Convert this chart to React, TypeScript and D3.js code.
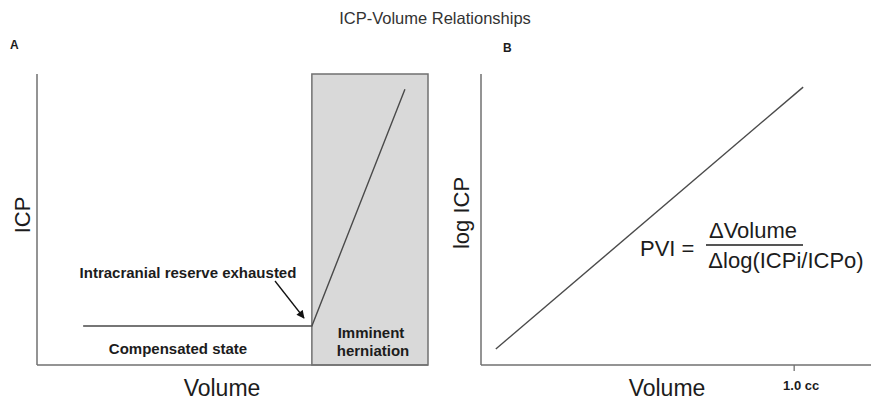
import React from "react";
import * as d3 from "d3";

const W = 871;
const H = 402;

// Panel A: ICP vs Volume (arbitrary units 0-100)
const curveA_volume = [11.8, 70.3, 94.1];
const curveA_icp = [13.4, 13.4, 94.8];
const herniationZone = [70.3, 100];

// Panel B: log ICP vs Volume
const curveB_volume = [3.8, 82.6];
const curveB_logicp = [5.5, 95.5];
const tickB_values = [80.3];
const tickB_labels = ["1.0 cc"];

const FONT = "Liberation Sans, Arial, Helvetica, sans-serif";
const AX = "#707070";
const TXT = "#1c1c1c";

export default function App() {
  const top = 74, bottom = 365;
  const xA = d3.scaleLinear().domain([0, 100]).range([37, 428]);
  const yA = d3.scaleLinear().domain([0, 100]).range([bottom, top]);
  const xB = d3.scaleLinear().domain([0, 100]).range([481, 871]);
  const yB = d3.scaleLinear().domain([0, 100]).range([bottom, top]);

  const lineA = d3.line<number>()
    .x((_, i) => xA(curveA_volume[i]))
    .y((_, i) => yA(curveA_icp[i]));
  const lineB = d3.line<number>()
    .x((_, i) => xB(curveB_volume[i]))
    .y((_, i) => yB(curveB_logicp[i]));

  const boxX0 = xA(herniationZone[0]);
  const boxX1 = xA(herniationZone[1]);

  return (
    <svg width={W} height={H} style={{ position: "absolute", left: 0, top: 0, background: "#fff" }}
      fontFamily={FONT}>
      <defs>
        <marker id="arr" viewBox="0 0 10 10" refX="9" refY="5" markerWidth="9" markerHeight="8"
          orient="auto" markerUnits="userSpaceOnUse">
          <path d="M0,0 L10,5 L0,10 z" fill="#111" />
        </marker>
      </defs>
      <rect width={W} height={H} fill="#fff" />
      <text x={435} y={24} textAnchor="middle" fontSize={16.5} fill="#333">ICP-Volume Relationships</text>
      <text x={10} y={49} fontSize={12} fontWeight="bold" fill={TXT}>A</text>
      <text x={503} y={52} fontSize={12} fontWeight="bold" fill={TXT}>B</text>

      {/* Panel A */}
      <rect x={boxX0} y={yA(100)} width={boxX1 - boxX0} height={yA(0) - yA(100)}
        fill="#d9d9d9" stroke={AX} strokeWidth={1.5} />
      <line x1={xA(0)} y1={yA(100)} x2={xA(0)} y2={yA(0)} stroke={AX} strokeWidth={1.5} />
      <line x1={xA(0)} y1={yA(0)} x2={xA(100)} y2={yA(0)} stroke={AX} strokeWidth={1.5} />
      <path d={lineA(curveA_volume) || ""} fill="none" stroke="#4a4a4a" strokeWidth={1.4} />
      <line x1={275} y1={281} x2={304} y2={318} stroke="#111" strokeWidth={1.3} markerEnd="url(#arr)" />
      <text x={188} y={278} textAnchor="middle" fontSize={15} fontWeight="bold" fill={TXT}>Intracranial reserve exhausted</text>
      <text x={178} y={354} textAnchor="middle" fontSize={15} fontWeight="bold" fill={TXT}>Compensated state</text>
      <text x={371} y={338} textAnchor="middle" fontSize={15} fontWeight="bold" fill={TXT}>Imminent</text>
      <text x={373} y={356} textAnchor="middle" fontSize={15} fontWeight="bold" fill={TXT}>herniation</text>
      <text transform={`translate(30,215) rotate(-90)`} textAnchor="middle" fontSize={22} fill={TXT}>ICP</text>
      <text x={222} y={396} textAnchor="middle" fontSize={23} fill={TXT}>Volume</text>

      {/* Panel B */}
      <line x1={xB(0)} y1={yB(100)} x2={xB(0)} y2={yB(0)} stroke={AX} strokeWidth={1.5} />
      <line x1={xB(0)} y1={yB(0)} x2={xB(100)} y2={yB(0)} stroke={AX} strokeWidth={1.5} />
      {tickB_values.map((v, i) => (
        <g key={i}>
          <line x1={xB(v)} y1={yB(0)} x2={xB(v)} y2={yB(0) + 6} stroke={AX} strokeWidth={1.3} />
          <text x={xB(v) + 7} y={390} textAnchor="middle" fontSize={13} fontWeight="bold" fill={TXT}>{tickB_labels[i]}</text>
        </g>
      ))}
      <path d={lineB(curveB_volume) || ""} fill="none" stroke="#4a4a4a" strokeWidth={1.4} />
      <text transform={`translate(469,213) rotate(-90)`} textAnchor="middle" fontSize={22} fill={TXT}>log ICP</text>
      <text x={667} y={396} textAnchor="middle" fontSize={23} fill={TXT}>Volume</text>

      <text x={640} y={256} fontSize={22} fill={TXT}>PVI =</text>
      <text x={753} y={238} textAnchor="middle" fontSize={22} fill={TXT}>ΔVolume</text>
      <line x1={706} y1={245} x2={803} y2={245} stroke={TXT} strokeWidth={1.3} />
      <text x={786} y={268} textAnchor="middle" fontSize={22} fill={TXT}>Δlog(ICPi/ICPo)</text>
    </svg>
  );
}
